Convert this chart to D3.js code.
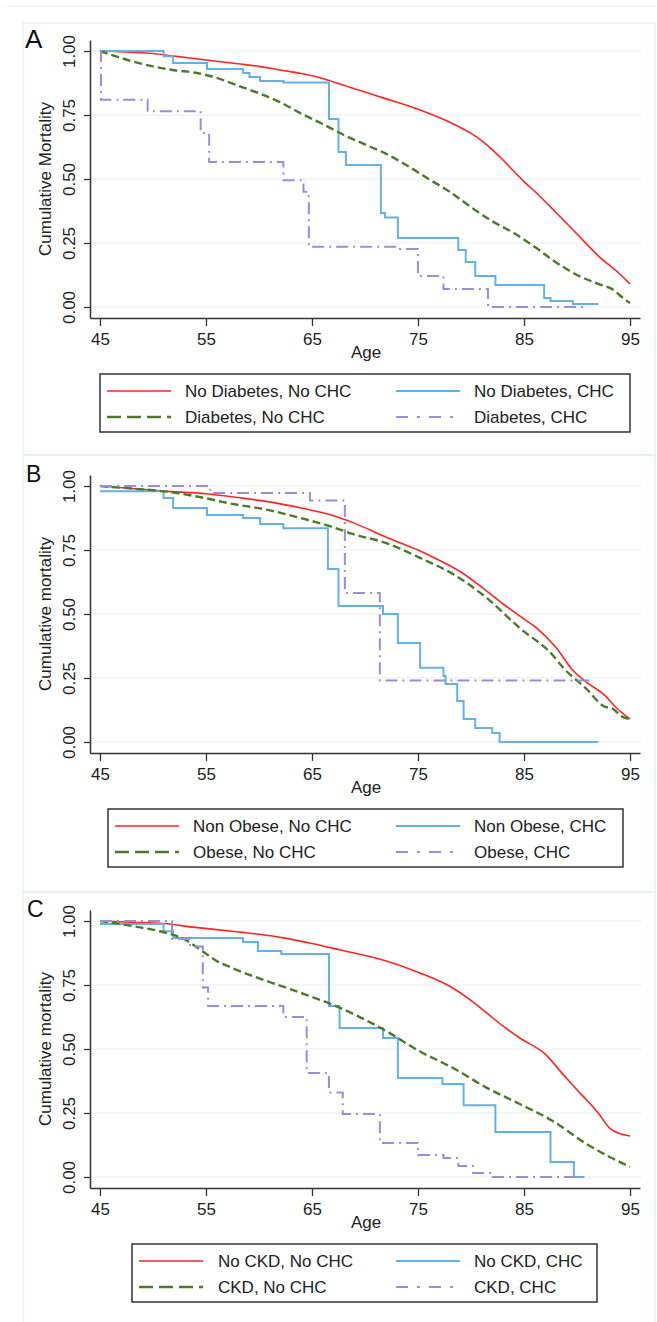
<!DOCTYPE html>
<html>
<head>
<meta charset="utf-8">
<script src="https://cdn.jsdelivr.net/npm/d3@7"></script>
<style>
  body { margin: 0; background: #fff; }
  svg { display: block; font-family: "Liberation Sans", Arial, sans-serif; }
</style>
</head>
<body>
<svg id="chart" width="657" height="1322"></svg>
<script>
let w = 657
let h = 1322

// x ticks / y ticks
let ageTicks = [45, 55, 65, 75, 85, 95]
let mortTicks = [0, 0.25, 0.5, 0.75, 1]

// panel titles and legends
let panelLetters = ['A', 'B', 'C']
let yTitles = ['Cumulative Mortality', 'Cumulative mortality', 'Cumulative mortality']
let legendA = ['No Diabetes, No CHC', 'No Diabetes, CHC', 'Diabetes, No CHC', 'Diabetes, CHC']
let legendB = ['Non Obese, No CHC', 'Non Obese, CHC', 'Obese, No CHC', 'Obese, CHC']
let legendC = ['No CKD, No CHC', 'No CKD, CHC', 'CKD, No CHC', 'CKD, CHC']

// panel A  [age, value]
let redA = [[45,1],[48,0.995],[50,0.99],[52,0.98],[55,0.965],[58,0.95],[60,0.94],[62,0.926],[64,0.912],[66,0.893],[68,0.866],[70,0.84],[72,0.813],[74,0.787],[76,0.757],[78,0.722],[80,0.678],[81,0.65],[82,0.615],[83,0.575],[84,0.532],[85,0.49],[86,0.452],[88,0.37],[90,0.285],[92,0.2],[94,0.13],[95,0.09]]
let greenA = [[45,1],[46.6,0.978],[48,0.96],[50,0.94],[52,0.925],[54,0.915],[56,0.895],[58,0.865],[60,0.835],[62,0.8],[64,0.755],[66,0.715],[68,0.672],[70,0.635],[72,0.598],[74,0.552],[76,0.5],[78,0.45],[80,0.39],[82,0.335],[84,0.29],[86,0.235],[88,0.175],[90,0.125],[92,0.09],[93.5,0.065],[94.2,0.04],[95,0.015]]
let blueA = [[45,1],[51,0.98],[51.9,0.953],[55.1,0.93],[58.5,0.914],[59.1,0.898],[60.1,0.883],[62.3,0.877],[66.6,0.734],[67.5,0.605],[68.2,0.555],[71.5,0.367],[71.9,0.35],[73.1,0.27],[78.8,0.223],[79.5,0.176],[80.4,0.121],[82.3,0.086],[86.9,0.035],[87.5,0.023],[89.6,0.012],[92,0.012]]
let purpleA = [[45,1],[45.1,0.81],[49.5,0.765],[54.5,0.68],[55.3,0.566],[62.3,0.495],[64.2,0.45],[64.7,0.235],[73,0.227],[75,0.121],[77.4,0.07],[81.6,0],[90.6,0]]

// panel B
let redB = [[45,1],[48,0.99],[51,0.98],[55,0.97],[58,0.955],[61,0.938],[64,0.914],[67,0.885],[69,0.855],[72,0.8],[75,0.75],[77,0.71],[79,0.665],[81,0.605],[83,0.54],[85,0.48],[86.2,0.445],[88,0.37],[89.6,0.28],[91,0.23],[92.5,0.187],[93.8,0.13],[95,0.09]]
let greenB = [[45,1],[48,0.99],[51.3,0.978],[54.4,0.957],[57.5,0.93],[60.7,0.908],[63.9,0.875],[66.7,0.843],[68.9,0.812],[72,0.777],[75.2,0.719],[78.3,0.656],[81.5,0.562],[84.6,0.445],[87.7,0.34],[88.7,0.29],[90.9,0.207],[92.5,0.14],[93.4,0.129],[94.2,0.1],[95,0.09]]
let blueB = [[45,0.98],[51,0.953],[51.9,0.914],[55.1,0.887],[58.5,0.875],[60.1,0.852],[62.3,0.835],[66.5,0.676],[67.5,0.531],[71.7,0.5],[73.1,0.387],[75.2,0.29],[77.4,0.258],[77.6,0.227],[78.7,0.16],[79.3,0.09],[80.4,0.055],[82,0.035],[82.7,0],[92,0]]
let purpleB = [[45,1],[55.4,0.973],[64.8,0.943],[68.1,0.582],[71.4,0.24],[91.5,0.24]]

// panel C
let redC = [[45,1],[48,0.995],[51,0.99],[54,0.975],[57.5,0.96],[60,0.948],[62.3,0.934],[65,0.912],[67,0.893],[69,0.875],[72,0.844],[75,0.8],[78,0.745],[80,0.69],[81.5,0.64],[83,0.59],[84.6,0.543],[87,0.48],[88.7,0.4],[90,0.34],[91,0.297],[92,0.25],[93.1,0.19],[94,0.17],[95,0.16]]
let greenC = [[45,1],[48.1,0.98],[51.3,0.953],[52.9,0.93],[54.4,0.89],[56,0.844],[57.5,0.816],[60.7,0.766],[63.9,0.72],[66.7,0.677],[68.9,0.637],[72,0.57],[75.2,0.49],[78.3,0.426],[81.5,0.348],[84.6,0.285],[87.7,0.219],[90.9,0.129],[93,0.08],[95,0.04]]
let blueC = [[45,0.988],[51,0.96],[51.9,0.934],[58.5,0.918],[59.9,0.883],[62.1,0.871],[66.6,0.668],[67.6,0.582],[71.7,0.543],[73.1,0.387],[77.3,0.363],[79.3,0.28],[82.3,0.176],[87.5,0.059],[89.7,0],[90.7,0]]
let purpleC = [[45,1],[51.8,0.93],[53.5,0.9],[54.7,0.74],[55.2,0.668],[62.3,0.625],[64.5,0.406],[66.6,0.33],[67.9,0.246],[71.4,0.133],[75,0.086],[77.4,0.074],[78.8,0.043],[80.2,0.016],[82,0],[90.8,0]]

let colors = { red: '#ff2424', blue: '#62b2e8', green: '#4d7a2a', purple: '#9a8ddd' }

let svg = d3.select('#chart')

// outer faint frame
svg.append('line').attr('x1', 7).attr('x2', 656).attr('y1', 6).attr('y2', 6)
  .attr('stroke', '#e2eeee').attr('stroke-width', 1.2)

let panels = [
  { off: 0, box: [23, 455], lines: [redA, blueA, greenA, purpleA], legend: legendA, lg: { x0: 100, x1: 630, s1: 107, t1: 185 } },
  { off: 435, box: [455, 892], lines: [redB, blueB, greenB, purpleB], legend: legendB, lg: { x0: 108, x1: 623, s1: 115, t1: 193 } },
  { off: 870, box: [892, 1330], lines: [redC, blueC, greenC, purpleC], legend: legendC, lg: { x0: 132, x1: 597, s1: 139, t1: 218 } }
]

let styles = [
  { color: colors.red, width: 1.6, dash: null, step: false, lgDash: null },
  { color: colors.blue, width: 2, dash: null, step: true, lgDash: null },
  { color: colors.green, width: 2.4, dash: '8,4', step: false, lgDash: '14,6' },
  { color: colors.purple, width: 2, dash: '12,5,2,5', step: true, lgDash: '12,9,3,9' }
]

let x = d3.scaleLinear().domain([44.06, 95.94]).range([90, 640])

panels.forEach((p, pi) => {
  let off = p.off
  let y = d3.scaleLinear().domain([-0.043, 1.043]).range([318 + off, 40 + off])
  let g = svg.append('g')

  g.append('rect')
    .attr('x', 23).attr('y', p.box[0])
    .attr('width', 632).attr('height', p.box[1] - p.box[0])
    .attr('fill', 'none').attr('stroke', '#e2eeee').attr('stroke-width', 1.2)

  // gridlines
  g.selectAll('.grid')
    .data(mortTicks)
    .join('line')
    .attr('x1', 93).attr('x2', 642)
    .attr('y1', d => y(d)).attr('y2', d => y(d))
    .attr('stroke', '#e6f1f1').attr('stroke-width', 1.2)

  // curves
  p.lines.forEach((data, li) => {
    let s = styles[li]
    let line = d3.line()
      .x(d => x(d[0]))
      .y(d => y(d[1]))
      .curve(s.step ? d3.curveStepAfter : d3.curveMonotoneX)
    g.append('path')
      .datum(data)
      .attr('d', line)
      .attr('fill', 'none')
      .attr('stroke', s.color)
      .attr('stroke-width', s.width)
      .attr('stroke-dasharray', s.dash)
  })

  // axes
  let xAxis = g.append('g')
    .attr('transform', 'translate(0,' + (318 + off) + ')')
    .call(d3.axisBottom(x).tickValues(ageTicks).tickSize(8).tickSizeOuter(0).tickPadding(5))
  let yAxis = g.append('g')
    .attr('transform', 'translate(90,0)')
    .call(d3.axisLeft(y).tickValues(mortTicks).tickFormat(d3.format('.2f')).tickSize(6).tickSizeOuter(0))

  ;[xAxis, yAxis].forEach(a => {
    a.select('.domain').attr('stroke', '#333').attr('stroke-width', 1.5)
    a.selectAll('.tick line').attr('stroke', '#333').attr('stroke-width', 1.3)
    a.selectAll('.tick text').attr('fill', '#222').attr('font-size', 17)
      .attr('font-family', '"Liberation Sans", Arial, sans-serif')
  })
  xAxis.selectAll('.tick text').attr('dy', 0).attr('y', 27)
  yAxis.selectAll('.tick text')
    .attr('transform', 'rotate(-90)')
    .attr('x', 0).attr('y', -15.5).attr('dy', 0)
    .attr('text-anchor', 'middle')

  // titles
  g.append('text')
    .attr('x', 366).attr('y', 358 + off)
    .attr('text-anchor', 'middle')
    .attr('font-size', 17).attr('fill', '#222')
    .text('Age')

  g.append('text')
    .attr('transform', 'translate(51,' + (179 + off) + ') rotate(-90)')
    .attr('text-anchor', 'middle')
    .attr('font-size', 17).attr('fill', '#222')
    .text(yTitles[pi])

  g.append('text')
    .attr('x', 25 + pi).attr('y', 48 + off - (pi ? 1 : 0))
    .attr('font-size', pi ? 23 : 26).attr('fill', '#111')
    .text(panelLetters[pi])

  // legend
  let lg = p.lg
  g.append('rect')
    .attr('x', lg.x0).attr('y', 374 + off)
    .attr('width', lg.x1 - lg.x0).attr('height', 58)
    .attr('fill', '#fff').attr('stroke', '#333').attr('stroke-width', 1.5)

  let order = [0, 1, 2, 3]
  let legendItem = g.selectAll('.lg')
    .data(order)
    .join('g')
    .attr('transform', d => 'translate(' + (d % 2 ? 396 : lg.s1) + ',' + (391 + off + (d > 1 ? 26 : 0)) + ')')

  legendItem.append('line')
    .attr('x1', 0).attr('x2', 64).attr('y1', 0).attr('y2', 0)
    .attr('stroke', d => styles[d].color)
    .attr('stroke-width', d => styles[d].width)
    .attr('stroke-dasharray', d => styles[d].lgDash)

  legendItem.append('text')
    .attr('x', d => d % 2 ? 78 : lg.t1 - lg.s1)
    .attr('y', 6)
    .attr('font-size', 17).attr('fill', '#222')
    .text(d => p.legend[d])
})
</script>
</body>
</html>
